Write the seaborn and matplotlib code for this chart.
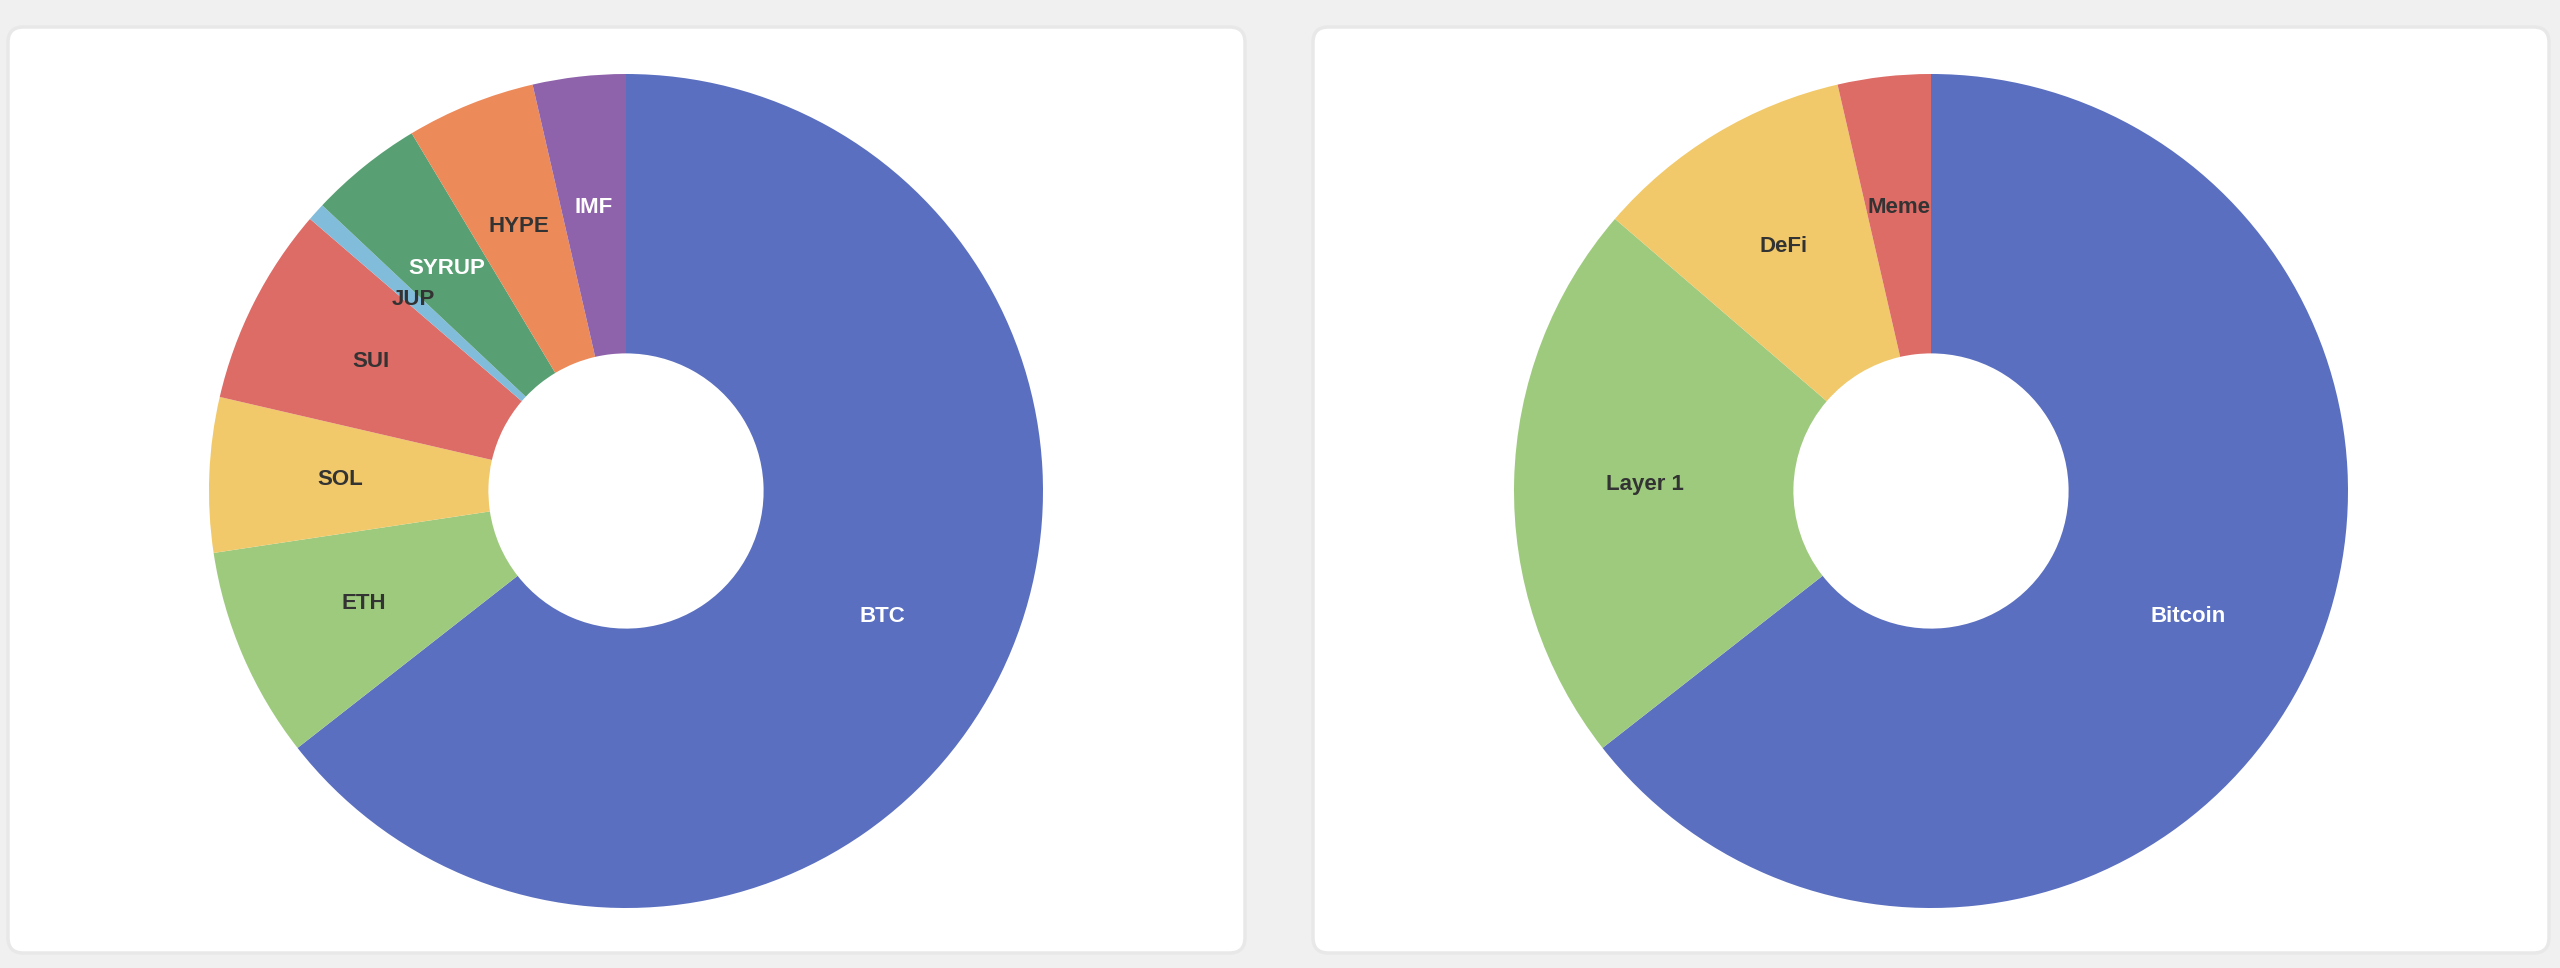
import matplotlib
matplotlib.use("Agg")
import matplotlib.pyplot as plt
from matplotlib.patches import FancyBboxPatch
import numpy as np
import seaborn as sns

sns.set_theme(style="white")
plt.rcParams['font.family'] = ['Liberation Sans', 'DejaVu Sans']

# Holdings by coin (share of portfolio, %)
coin_labels = ["BTC", "ETH", "SOL", "SUI", "JUP", "SYRUP", "HYPE", "IMF"]
coin_values = [64.5, 8.2, 6.0, 7.7, 0.7, 4.4, 5.0, 3.6]
coin_colors = ["#5a6fc0", "#9eca7e", "#f1c96a", "#dd6b66", "#82bcdb", "#58a073", "#ec8a5a", "#8f63ab"]
coin_text = ["white", "#333333", "#333333", "#333333", "#333333", "white", "#333333", "white"]

# Holdings by sector (share of portfolio, %)
sector_labels = ["Bitcoin", "Layer 1", "DeFi", "Meme"]
sector_values = [64.5, 21.9, 10.1, 3.6]
sector_colors = ["#5a6fc0", "#9eca7e", "#f1c96a", "#dd6b66"]
sector_text = ["white", "#333333", "#333333", "#333333"]

W, H = 2560, 968
fig = plt.figure(figsize=(W / 100, H / 100), dpi=100)
fig.patch.set_facecolor("#f0f0f0")

# white rounded cards behind each chart
top, bottom = 27, 953
for x0, x1 in [(8, 1245), (1313, 2549)]:
    card = FancyBboxPatch((x0 / W, 1 - bottom / H), (x1 - x0) / W, (bottom - top) / H,
                          boxstyle="round,pad=0,rounding_size=0.006",
                          transform=fig.transFigure, facecolor="white",
                          edgecolor="#e8e8e8", linewidth=2.5, zorder=-5,
                          mutation_aspect=W / H)
    fig.patches.append(card)


def donut(cx, cy, values, labels, colors, text_colors):
    r = 417
    ax = fig.add_axes([(cx - r) / W, (H - cy - r) / H, 2 * r / W, 2 * r / H])
    ax.set_facecolor("none")
    inner = 0.33
    ax.pie(values, colors=colors, startangle=90, counterclock=False,
           radius=1, wedgeprops=dict(width=1 - inner, linewidth=0))
    total = sum(values)
    start = 90.0
    label_r = 0.685
    for val, lab, tc in zip(values, labels, text_colors):
        span = val / total * 360
        mid = np.deg2rad(start - span / 2)
        ax.text(label_r * np.cos(mid), label_r * np.sin(mid), lab,
                ha="center", va="center", fontsize=16, fontweight="bold", color=tc)
        start -= span
    ax.set_xlim(-1, 1)
    ax.set_ylim(-1, 1)
    ax.axis("off")


donut(626, 491, coin_values, coin_labels, coin_colors, coin_text)
donut(1931, 491, sector_values, sector_labels, sector_colors, sector_text)

fig.savefig("out.png", dpi=100, facecolor=fig.get_facecolor())
